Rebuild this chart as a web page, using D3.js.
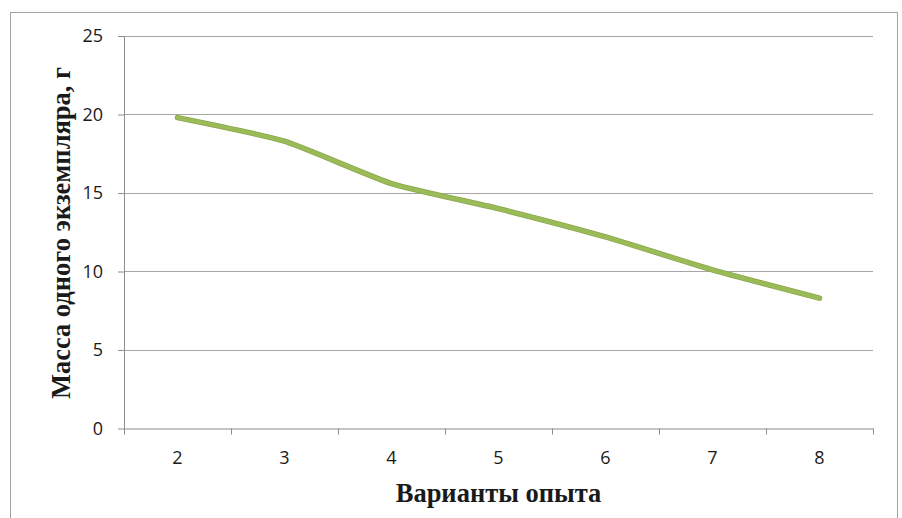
<!DOCTYPE html>
<html>
<head>
<meta charset="utf-8">
<script src="https://cdn.jsdelivr.net/npm/d3@7"></script>
<style>
  html, body { margin: 0; padding: 0; background: #ffffff; }
  svg { display: block; }
</style>
</head>
<body>
<svg id="chart" width="902" height="518"></svg>
<script>
// Варианты опыта и масса одного экземпляра (г)
const categories = ["2", "3", "4", "5", "6", "7", "8"];
const massValues = [19.8, 18.3, 15.6, 14.0, 12.2, 10.1, 8.3];
const yTicks = [0, 5, 10, 15, 20, 25];

const xTitle = "Варианты опыта";
const yTitle = "Масса одного экземпляра, г";

const svg = d3.select("#chart");
const W = 902, H = 518;
const plot = { left: 124, right: 873, top: 36, bottom: 428.5 };
const tickFont = "'Open Sans', 'Liberation Sans', sans-serif";
const titleFont = "'Liberation Serif', 'Times New Roman', serif";

// outer frame
svg.append("rect")
  .attr("x", 10.5).attr("y", 12.5)
  .attr("width", 887).attr("height", H + 10)
  .attr("fill", "#ffffff")
  .attr("stroke", "#a3a3a3")
  .attr("stroke-width", 1);

const x = d3.scaleBand().domain(categories).range([plot.left, plot.right]).padding(0);
const y = d3.scaleLinear().domain([0, 25]).range([plot.bottom, plot.top]);

// horizontal gridlines
svg.append("g")
  .selectAll("line")
  .data(yTicks.filter(d => d > 0))
  .join("line")
  .attr("x1", plot.left).attr("x2", plot.right)
  .attr("y1", d => Math.round(y(d)) + 0.5).attr("y2", d => Math.round(y(d)) + 0.5)
  .attr("stroke", "#a6a6a6")
  .attr("stroke-width", 1);

// y axis
const yAxis = svg.append("g")
  .attr("transform", `translate(${plot.left},0)`)
  .call(d3.axisLeft(y).tickValues(yTicks).tickSize(6).tickPadding(15).tickSizeOuter(0));
yAxis.select(".domain").attr("stroke", "#8c8c8c");
yAxis.selectAll(".tick line").attr("stroke", "#8c8c8c");
yAxis.selectAll(".tick text")
  .attr("font-family", tickFont)
  .attr("font-size", 18)
  .attr("fill", "#1a1a1a");

// x axis: labels centred in bands, ticks on band boundaries
const xAxis = svg.append("g")
  .attr("transform", `translate(0,${plot.bottom})`)
  .call(d3.axisBottom(x).tickSize(0).tickSizeOuter(0));
xAxis.select(".domain").attr("stroke", "#8c8c8c");
xAxis.selectAll(".tick text")
  .attr("y", 29.5)
  .attr("dy", "0.35em")
  .attr("font-family", tickFont)
  .attr("font-size", 18)
  .attr("fill", "#1a1a1a");

const boundaries = categories.map(c => x(c)).concat([x(categories[categories.length - 1]) + x.bandwidth()]);
svg.append("g")
  .selectAll("line")
  .data(boundaries)
  .join("line")
  .attr("x1", d => Math.round(d) + 0.5).attr("x2", d => Math.round(d) + 0.5)
  .attr("y1", plot.bottom).attr("y2", plot.bottom + 6)
  .attr("stroke", "#8c8c8c")
  .attr("stroke-width", 1);

// data line (lightly smoothed)
const line = d3.line()
  .x((d, i) => x(categories[i]) + x.bandwidth() / 2)
  .y(d => y(d))
  .curve(d3.curveCardinal.tension(0.5));

svg.append("path")
  .datum(massValues)
  .attr("d", line)
  .attr("fill", "none")
  .attr("stroke", "#8aa74c")
  .attr("stroke-width", 5.5)
  .attr("stroke-linecap", "round")
  .attr("stroke-linejoin", "round");
svg.append("path")
  .datum(massValues)
  .attr("d", line)
  .attr("fill", "none")
  .attr("stroke", "#9bbb59")
  .attr("stroke-width", 4)
  .attr("stroke-linecap", "round")
  .attr("stroke-linejoin", "round");

// axis titles
svg.append("text")
  .attr("x", (plot.left + plot.right) / 2)
  .attr("y", 502)
  .attr("text-anchor", "middle")
  .attr("font-family", titleFont)
  .attr("font-weight", "bold")
  .attr("font-size", 26.5)
  .attr("fill", "#1a1a1a")
  .text(xTitle);

svg.append("text")
  .attr("transform", "translate(70,233) rotate(-90)")
  .attr("text-anchor", "middle")
  .attr("font-family", titleFont)
  .attr("font-weight", "bold")
  .attr("font-size", 26.5)
  .attr("fill", "#1a1a1a")
  .text(yTitle);
</script>
</body>
</html>
